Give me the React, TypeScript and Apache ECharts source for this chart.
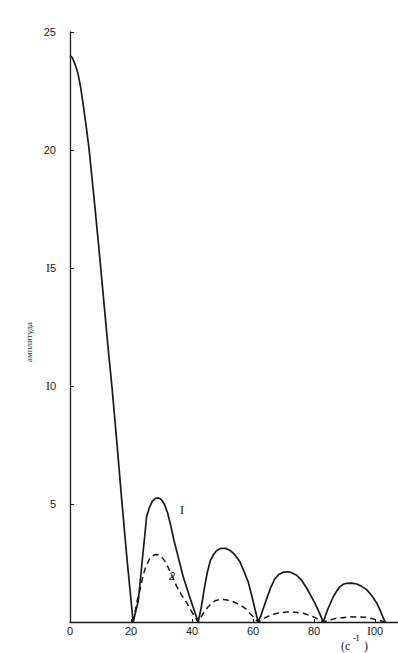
import React, { useEffect, useRef } from "react";
import * as echarts from "echarts";

// frequency (c^-1) vs amplitude
const curve1: [number, number][] = [
  [0, 24], [0.8, 23.9], [1.6, 23.65], [2.6, 23.25], [3.5, 22.65], [4.4, 21.85], [5.3, 21.0],
  [6.2, 20.1], [7.1, 18.95], [8, 17.8], [9.5, 15.8], [11, 13.7], [12.5, 11.6], [13.8, 9.9],
  [15.5, 7.4], [17, 5.1], [18.8, 2.5], [20.7, 0],
  [22.4, 0.9], [23.6, 2.5], [25.1, 4.45], [26, 4.85], [27, 5.12], [28, 5.24], [29, 5.26],
  [30, 5.18], [31, 4.98], [32, 4.62], [33, 4.1], [34, 3.5], [37.1, 1.92], [39.5, 0.95], [42, 0],
  [43, 0.6], [44, 1.4], [45, 2.1], [46, 2.6], [47, 2.85], [48, 3.02], [49.5, 3.12], [51, 3.12],
  [52.5, 3.03], [54, 2.85], [55.7, 2.55], [57, 2.15], [58.4, 1.7], [59.7, 1.05], [60.7, 0.5], [61.7, 0],
  [62.5, 0.25], [63.3, 0.55], [64.5, 1.0], [65.6, 1.4], [67, 1.8], [68.3, 2.0], [69.7, 2.1],
  [71, 2.13], [72.5, 2.1], [74.3, 1.98], [76, 1.75], [77.6, 1.43], [79, 1.1], [80.3, 0.79],
  [81.7, 0.4], [83, 0],
  [84.5, 0.55], [86.3, 1.07], [87.5, 1.33], [88.5, 1.5], [89.6, 1.6], [90.7, 1.64], [92.3, 1.65],
  [94, 1.61], [95.7, 1.5], [97.3, 1.36], [99, 1.1], [100.6, 0.79], [101.8, 0.45], [102.7, 0.16],
  [103.3, 0],
];

const curve2: [number, number][] = [
  [20.7, 0], [22, 0.9], [23, 1.4], [24, 2.0], [25, 2.4], [26, 2.65], [27, 2.8], [28, 2.86],
  [29, 2.85], [30, 2.76], [31, 2.6], [32, 2.35], [33.5, 1.95], [35, 1.5], [36.7, 1.12],
  [38.3, 0.8], [39.7, 0.48], [41, 0.2], [42, 0],
  [43.7, 0.37], [45, 0.6], [45.9, 0.72], [47.5, 0.9], [49.2, 0.96], [51.5, 0.93], [53.5, 0.86],
  [55.5, 0.74], [57.4, 0.58], [59.5, 0.3], [61.7, 0],
  [64.5, 0.22], [67.8, 0.37], [72.1, 0.44], [76.5, 0.37], [79.8, 0.22], [83, 0],
  [87, 0.15], [92, 0.22], [97, 0.2], [101, 0.08], [103.3, 0],
];

const xTickLabels: Record<number, string> = { 0: "0", 20: "20", 40: "40", 60: "60", 80: "80", 100: "{s|I}00" };
const yTickLabels: Record<number, string> = { 0: "", 5: "5", 10: "{s|I}0", 15: "{s|I}5", 20: "20", 25: "25" };
const yName = "амплитуда";
const curveLabels = ["I", "2"];
const unitParts = ["(c", "-I", ")"];

export default function App() {
  const ref = useRef<HTMLDivElement>(null);
  useEffect(() => {
    if (!ref.current) return;
    const chart = echarts.init(ref.current, undefined, { renderer: "svg" });
    const ink = "#1a1a1a";
    const rich = { s: { fontFamily: "Liberation Serif", fontSize: 12, color: ink } };
    chart.setOption({
      animation: false,
      backgroundColor: "#ffffff",
      grid: { left: 70, right: 0, top: 32, bottom: 31 },
      xAxis: {
        type: "value",
        min: 0,
        max: 107.5,
        interval: 20,
        splitLine: { show: false },
        axisLine: { show: true, onZero: false, lineStyle: { color: ink, width: 1.3 } },
        axisTick: { show: true, inside: true, length: 3, lineStyle: { color: ink } },
        axisLabel: {
          margin: 3,
          fontFamily: "Liberation Sans",
          fontSize: 11,
          color: ink,
          showMaxLabel: false,
          formatter: (v: number) => xTickLabels[v] ?? "",
          rich,
        },
      },
      yAxis: {
        type: "value",
        min: 0,
        max: 25,
        interval: 5,
        splitLine: { show: false },
        axisLine: { show: true, lineStyle: { color: ink, width: 1.3 } },
        axisTick: { show: true, inside: true, length: 4, lineStyle: { color: ink } },
        axisLabel: {
          margin: 14,
          fontFamily: "Liberation Sans",
          fontSize: 11,
          color: ink,
          formatter: (v: number) => yTickLabels[v] ?? "",
          rich,
        },
      },
      series: [
        {
          type: "line",
          data: curve1,
          showSymbol: false,
          symbol: "none",
          lineStyle: { color: ink, width: 1.7, join: "round" },
        },
        {
          type: "line",
          data: curve2,
          showSymbol: false,
          symbol: "none",
          lineStyle: { color: ink, width: 1.5, type: [6, 4] },
        },
      ],
      graphic: [
        {
          type: "text",
          x: 29,
          y: 342,
          rotation: Math.PI / 2,
          style: {
            text: yName,
            fontFamily: "Liberation Serif",
            fontSize: 9,
            fill: "#333",
            align: "center",
            verticalAlign: "middle",
          },
        },
        {
          type: "text",
          x: 182,
          y: 510,
          style: { text: curveLabels[0], fontFamily: "Liberation Serif", fontSize: 12, fill: ink, align: "center", verticalAlign: "middle" },
        },
        {
          type: "text",
          x: 172,
          y: 576,
          style: { text: curveLabels[1], fontFamily: "Liberation Sans", fontSize: 11, fontStyle: "italic", fill: ink, align: "center", verticalAlign: "middle" },
        },
        {
          type: "text",
          x: 341,
          y: 646,
          style: { text: unitParts[0], fontFamily: "Liberation Serif", fontSize: 12, fill: ink, align: "left", verticalAlign: "middle" },
        },
        {
          type: "text",
          x: 353,
          y: 638,
          style: { text: unitParts[1], fontFamily: "Liberation Serif", fontSize: 9, fill: ink, align: "left", verticalAlign: "middle" },
        },
        {
          type: "text",
          x: 364,
          y: 646,
          style: { text: unitParts[2], fontFamily: "Liberation Serif", fontSize: 12, fill: ink, align: "left", verticalAlign: "middle" },
        },
      ],
    });
    return () => chart.dispose();
  }, []);
  return (
    <div
      ref={ref}
      style={{ position: "absolute", left: 0, top: 0, width: 398, height: 653 }}
    />
  );
}
